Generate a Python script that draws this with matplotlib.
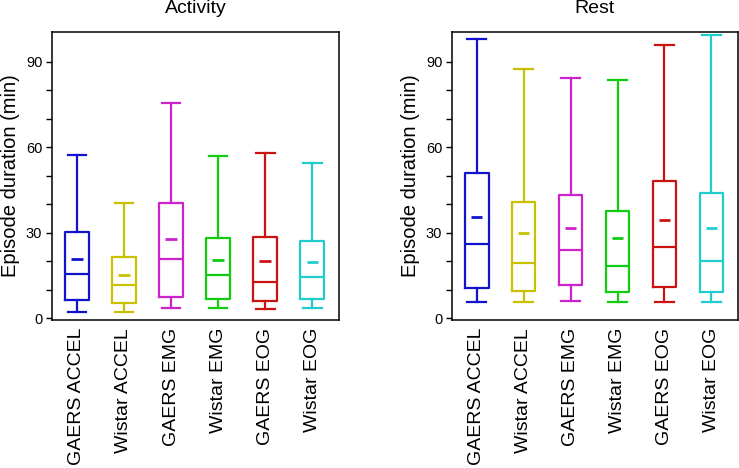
import matplotlib.pyplot as plt

plt.rcParams['font.family'] = ['Liberation Sans', 'DejaVu Sans']

# группы и цвета
groups = ['GAERS ACCEL', 'Wistar ACCEL', 'GAERS EMG', 'Wistar EMG', 'GAERS EOG', 'Wistar EOG']
colors = ['#1212cc', '#c8c000', '#cc22cc', '#11cc11', '#cc1111', '#22cccc']

# Activity: whislo, q1, med, q3, whishi, mean
act_lo = [2.3, 2.3, 3.6, 3.6, 3.3, 3.6]
act_q1 = [6.2, 5.2, 7.4, 6.8, 5.9, 6.8]
act_med = [15.5, 11.5, 20.6, 15.0, 12.7, 14.6]
act_q3 = [30.1, 21.6, 40.3, 28.0, 28.6, 27.2]
act_hi = [57.2, 40.5, 75.5, 56.8, 57.9, 54.5]
act_mean = [20.9, 15.2, 27.7, 20.3, 20.0, 19.7]

# Rest
rest_lo = [5.6, 5.6, 5.9, 5.6, 5.6, 5.6]
rest_q1 = [10.7, 9.4, 11.5, 9.3, 10.9, 9.3]
rest_med = [25.9, 19.2, 24.0, 18.4, 24.8, 19.9]
rest_q3 = [51.0, 40.7, 43.1, 37.5, 48.2, 43.9]
rest_hi = [97.9, 87.5, 84.3, 83.7, 96.0, 99.4]
rest_mean = [35.5, 29.9, 31.8, 28.2, 34.5, 31.8]


def draw(ax, lo, q1, med, q3, hi, mean, title):
    pos = list(range(1, len(groups) + 1))
    stats = []
    for i in range(len(groups)):
        stats.append({'whislo': lo[i], 'q1': q1[i], 'med': med[i],
                      'q3': q3[i], 'whishi': hi[i], 'fliers': []})
    b = ax.bxp(stats, positions=pos, widths=0.5, capwidths=0.4,
               showfliers=False, patch_artist=False)
    for i, c in enumerate(colors):
        for art in (b['boxes'][i], b['medians'][i]):
            art.set_color(c)
            art.set_linewidth(1.6)
        for art in b['whiskers'][2 * i:2 * i + 2] + b['caps'][2 * i:2 * i + 2]:
            art.set_color(c)
            art.set_linewidth(1.6)
    # среднее — короткая черта
    ax.hlines(mean, [p - 0.12 for p in pos], [p + 0.12 for p in pos],
              colors=colors, linewidth=2)
    ax.set_xlim(0.47, 6.57)
    ax.set_ylim(-0.5, 100.5)
    ax.set_yticks(range(0, 100, 10))
    ax.set_yticklabels(['0', '', '', '30', '', '', '60', '', '', '90'], fontsize=10.5)
    ax.set_xticks(pos)
    ax.set_xticklabels(groups, rotation=90, fontsize=14)
    ax.tick_params(axis='x', length=0, pad=6)
    ax.tick_params(axis='y', length=4, width=1, pad=3)
    for s in ax.spines.values():
        s.set_linewidth(1.1)
    ax.set_ylabel('Episode duration (min)', fontsize=14.5, labelpad=4)
    ax.set_title(title, fontsize=14, pad=14)


fig = plt.figure(figsize=(7.39, 4.68), dpi=100)
ax1 = fig.add_axes([52 / 739, 1 - 319.5 / 468, 287 / 739, 287.5 / 468])
ax2 = fig.add_axes([452 / 739, 1 - 319.5 / 468, 286 / 739, 287.5 / 468])

draw(ax1, act_lo, act_q1, act_med, act_q3, act_hi, act_mean, 'Activity')
draw(ax2, rest_lo, rest_q1, rest_med, rest_q3, rest_hi, rest_mean, 'Rest')

plt.savefig('out.png', dpi=100)
